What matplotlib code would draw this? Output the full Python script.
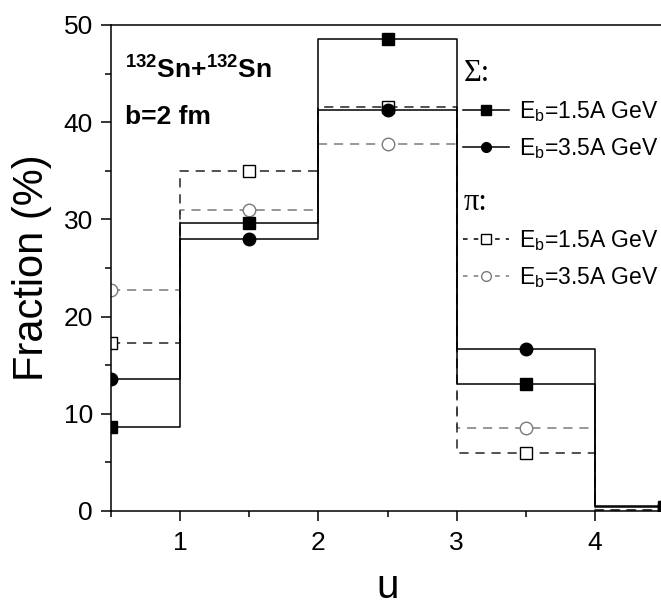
import matplotlib
matplotlib.use("Agg")
import matplotlib.pyplot as plt
from matplotlib.lines import Line2D
from matplotlib.ticker import MultipleLocator

plt.rcParams['font.family'] = ['Liberation Sans', 'DejaVu Sans']
plt.rcParams['mathtext.fontset'] = 'custom'
plt.rcParams['mathtext.rm'] = 'Liberation Sans'
plt.rcParams['mathtext.bf'] = 'Liberation Sans:bold'
plt.rcParams['mathtext.it'] = 'Liberation Sans:italic'

# Bin centres (u) and fractions (%)
u = [0.5, 1.5, 2.5, 3.5, 4.5]
sigma_15 = [8.6, 29.6, 48.6, 13.1, 0.4]
sigma_35 = [13.6, 28.0, 41.3, 16.7, 0.5]
pi_15 = [17.3, 35.0, 41.6, 6.0, 0.1]
pi_35 = [22.7, 31.0, 37.8, 8.5, 0.15]

label_15 = r'E$_{\mathrm{b}}$=1.5A GeV'
label_35 = r'E$_{\mathrm{b}}$=3.5A GeV'

fig = plt.figure(figsize=(6.61, 6.09), dpi=100)
ax = fig.add_axes([111/661, 1-511/609, (664-111)/661, (511-25)/609])

lw = 1.1
dash = (0, (6, 4.5))
gray = '#7a7a7a'

ax.plot(u, pi_35, drawstyle='steps-mid', color=gray, lw=lw, ls=dash,
        marker='o', ms=9, mfc='white', mec=gray, mew=1.0)
ax.plot(u, pi_15, drawstyle='steps-mid', color='#222222', lw=lw, ls=dash,
        marker='s', ms=8.5, mfc='white', mec='black', mew=1.0)
ax.plot(u, sigma_35, drawstyle='steps-mid', color='black', lw=lw, ls='-',
        marker='o', ms=9, mfc='black', mec='black')
ax.plot(u, sigma_15, drawstyle='steps-mid', color='black', lw=lw, ls='-',
        marker='s', ms=8.5, mfc='black', mec='black')

ax.set_xlim(0.5, 4.5)
ax.set_ylim(0, 50)
ax.xaxis.set_major_locator(MultipleLocator(1))
ax.xaxis.set_minor_locator(MultipleLocator(0.5))
ax.yaxis.set_major_locator(MultipleLocator(10))
ax.yaxis.set_minor_locator(MultipleLocator(5))
ax.tick_params(which='major', direction='out', length=7, width=1.1, labelsize=19, pad=6)
ax.tick_params(which='minor', direction='out', length=4, width=1.1)
ax.tick_params(axis='x', which='major', length=7.5, pad=7)
for s in ax.spines.values():
    s.set_linewidth(1.1)

ax.set_xlabel('u', fontsize=29, labelpad=9)
ax.set_ylabel('Fraction (%)', fontsize=30, labelpad=8)

ax.text(0.025, 0.935, r'$^{\mathbf{132}}$Sn+$^{\mathbf{132}}$Sn', transform=ax.transAxes,
        fontsize=19, fontweight='bold', va='top', ha='left')
ax.text(0.025, 0.835, 'b=2 fm', transform=ax.transAxes,
        fontsize=19, fontweight='bold', va='top', ha='left')

serif = {'family': 'Liberation Serif', 'size': 22}
common = dict(loc='upper left', frameon=False, fontsize=16.5, handlelength=2.0,
              handletextpad=0.45, labelspacing=0.5, borderpad=0, borderaxespad=0,
              alignment='left', title_fontproperties=serif)
h1 = [Line2D([], [], color='black', lw=lw, marker='s', ms=7, mfc='black'),
      Line2D([], [], color='black', lw=lw, marker='o', ms=7, mfc='black')]
leg1 = ax.legend(h1, [label_15, label_35], title='Σ:',
                 bbox_to_anchor=(0.637, 0.93), **common)
ax.add_artist(leg1)
h2 = [Line2D([], [], color='black', lw=lw, ls=(0, (3, 4)), marker='s', ms=7, mfc='white'),
      Line2D([], [], color=gray, lw=lw, ls=(0, (3, 4)), marker='o', ms=7, mfc='white', mec=gray)]
leg2 = ax.legend(h2, [label_15, label_35], title='π:',
                 bbox_to_anchor=(0.637, 0.665), **common)

fig.savefig('out.png', dpi=100)
